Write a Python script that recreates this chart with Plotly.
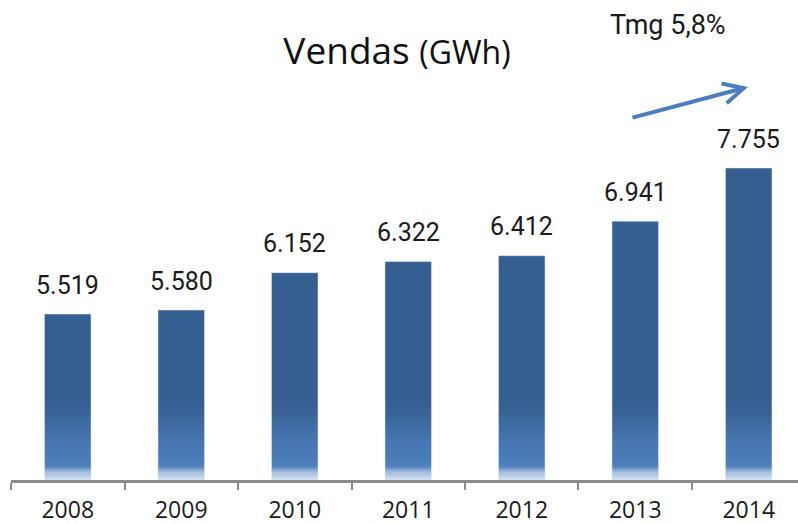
import plotly.graph_objects as go

# ---- data ----
years = ["2008", "2009", "2010", "2011", "2012", "2013", "2014"]
sales_gwh = [5519, 5580, 6152, 6322, 6412, 6941, 7755]
title_main = "Vendas"
title_unit = "(GWh)"
cagr_label = "Tmg 5,8%"

# ---- scale / style constants ----
W, H = 798, 524
M_L, M_R, M_T, M_B = 11, 0, 0, 44
PLOT_W = W - M_L - M_R
PLOT_H = H - M_T - M_B
Y0 = 2977.0            # value at the axis line
PX_PER_UNIT = 0.0653   # pixels per GWh
Y1 = Y0 + PLOT_H / PX_PER_UNIT
BAR_W = 0.41
DARK = "#365F91"

def px_to_val(px):
    return Y0 + px / PX_PER_UNIT

def hex_to_rgb(h):
    h = h.lstrip("#")
    return tuple(int(h[i:i + 2], 16) for i in (0, 2, 4))

def lerp(c1, c2, t):
    t = t * t * (3 - 2 * t)  # smoothstep easing
    a, b = hex_to_rgb(c1), hex_to_rgb(c2)
    return "rgb(%d,%d,%d)" % tuple(round(a[i] + (b[i] - a[i]) * t) for i in range(3))

# gradient stops (whole pixels above axis, colour)
stops = [(0, "#D4E0F0"), (6, "#AFC5E3"), (15, "#4F80BC"), (22, "#4A7BB7"),
         (82, DARK)]
GRAD_TOP = stops[-1][0]

fig = go.Figure()

# dark upper part of each bar (from the gradient top to the value)
top_base = px_to_val(GRAD_TOP)
fig.add_trace(go.Bar(x=years, y=[max(0, v - top_base) for v in sales_gwh],
                     base=[top_base] * len(years),
                     marker=dict(color=DARK, line=dict(width=0)),
                     width=BAR_W, hoverinfo="skip", opacity=1))

# bottom gradient: stacked, non-overlapping 1px slices aligned to pixel rows
for i in range(len(stops) - 1):
    p0, c0 = stops[i]
    p1, c1 = stops[i + 1]
    for p in range(p0, p1):
        t = (p + 0.5 - p0) / (p1 - p0)
        lo, hi = px_to_val(p), px_to_val(p + 1)
        fig.add_trace(go.Bar(
            x=years,
            y=[max(0, min(v, hi) - lo) for v in sales_gwh],
            base=[lo] * len(years),
            marker=dict(color=lerp(c0, c1, t), line=dict(width=0)),
            width=BAR_W, hoverinfo="skip", showlegend=False, opacity=1))

# invisible full bars for hover
fig.add_trace(go.Bar(x=years, y=sales_gwh, marker=dict(color="rgba(0,0,0,0)"),
                     width=BAR_W, hoverinfo="x+y"))

# value labels
for i, v in enumerate(sales_gwh):
    fig.add_annotation(x=i, y=v, xref="x", yref="y", text=f"{v:,}".replace(",", "."),
                       showarrow=False, xanchor="center", yanchor="middle", yshift=29,
                       font=dict(family="Roboto", size=25, color="#1a1a1a"))

# growth label + arrow
fig.add_annotation(x=(668 - M_L) / PLOT_W, y=(PLOT_H - 25) / PLOT_H,
                   xref="paper", yref="paper", text=cagr_label, showarrow=False,
                   xanchor="center", yanchor="middle",
                   font=dict(family="Roboto", size=27, color="#1a1a1a"))
fig.add_annotation(x=(748 - M_L) / PLOT_W, y=(PLOT_H - 87) / PLOT_H,
                   xref="paper", yref="paper", text="", showarrow=True,
                   ax=-117, ay=31, arrowhead=5, arrowsize=1.0, arrowwidth=4,
                   arrowcolor="#4A7EC0")

fig.update_layout(
    width=W, height=H,
    margin=dict(l=M_L, r=M_R, t=M_T, b=M_B, autoexpand=False),
    paper_bgcolor="white", plot_bgcolor="white",
    barmode="overlay", showlegend=False,
    title=dict(text=f"{title_main} <span style='font-size:32px'>{title_unit}</span>",
               x=397 / W, xanchor="center", y=1 - 51 / H, yanchor="middle",
               font=dict(family="Open Sans", size=37, color="#111111")),
    xaxis=dict(type="category", range=[-0.5, 6.434], showline=True, automargin=False,
               linecolor="#8A8A8A", linewidth=3, ticks="outside", tickson="boundaries",
               ticklen=7, tickwidth=2, tickcolor="#8A8A8A", showgrid=False,
               ticklabelstandoff=7,
               tickfont=dict(family="Open Sans", size=23, color="#1a1a1a")),
    yaxis=dict(range=[Y0, Y1], visible=False, showgrid=False, zeroline=False,
               automargin=False),
)

fig.write_html("out.html", config={"displayModeBar": False},
               post_script="document.body.style.margin='0';")
